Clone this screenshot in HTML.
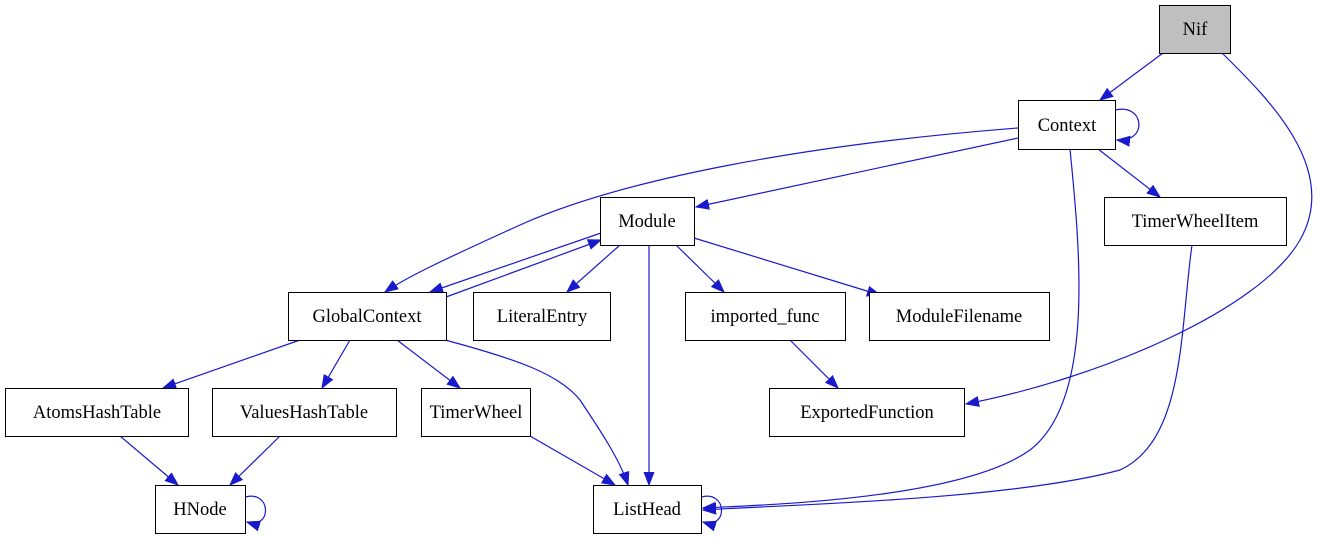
<!DOCTYPE html>
<html><head><meta charset="utf-8"><style>
html,body{margin:0;padding:0;background:#fff;}
svg{display:block;}
text{font-family:"Liberation Serif",serif;font-size:18.5px;fill:#000;}
</style></head><body>
<svg width="1317" height="539" viewBox="0 0 1317 539" xmlns="http://www.w3.org/2000/svg">
<defs>
<marker id="a" markerUnits="userSpaceOnUse" markerWidth="14" markerHeight="12" refX="13" refY="6" orient="auto">
<path d="M0,1 L13,6 L0,11 Z" fill="#1a1acd" stroke="#1a1acd"/>
</marker>
</defs>
<g fill="none" stroke="#1a1acd" stroke-width="1.2" marker-end="url(#a)">
<path d="M1163,53 L1100,100"/>
<path d="M1222,53 C1270,100 1340,170 1300,240 C1260,310 1100,378 966,404"/>
<path d="M1115,110 C1145,103 1148,143 1117,140"/>
<path d="M1018,128 C800,145 620,180 520,225 C450,257 410,275 385,292"/>
<path d="M1018,138 L696,207"/>
<path d="M1070,149 C1080,250 1095,400 1030,450 C960,500 760,505 703,508"/>
<path d="M1098,149 L1160,197"/>
<path d="M1192,245 C1180,330 1185,440 1120,470 C1010,500 780,505 703,510"/>
<path d="M601,233 L430,292"/>
<path d="M446,297 L601,240"/>
<path d="M620,245 L567,292"/>
<path d="M649,245 L649,485"/>
<path d="M676,245 L724,292"/>
<path d="M694,238 L880,295"/>
<path d="M790,340 L838,388"/>
<path d="M300,340 L163,388"/>
<path d="M350,340 L322,388"/>
<path d="M397,340 L460,388"/>
<path d="M445,340 C520,360 560,375 580,400 C600,430 620,460 628,485"/>
<path d="M120,436 L178,485"/>
<path d="M280,436 L230,485"/>
<path d="M245,497 C272,490 272,530 247,522"/>
<path d="M530,436 L615,485"/>
<path d="M701,497 C728,490 728,530 703,522"/>
</g>
<g stroke="#000" stroke-width="1">
<rect x="1159.5" y="5.5" width="71" height="48" fill="#bfbfbf"/>
<rect x="1018.5" y="100.5" width="97" height="49" fill="#fff"/>
<rect x="600.5" y="197.5" width="94" height="48" fill="#fff"/>
<rect x="1104.5" y="197.5" width="182" height="48" fill="#fff"/>
<rect x="288.5" y="292.5" width="158" height="48" fill="#fff"/>
<rect x="473.5" y="292.5" width="137" height="48" fill="#fff"/>
<rect x="685.5" y="292.5" width="160" height="48" fill="#fff"/>
<rect x="869.5" y="292.5" width="180" height="48" fill="#fff"/>
<rect x="5.5" y="388.5" width="183" height="48" fill="#fff"/>
<rect x="212.5" y="388.5" width="184" height="48" fill="#fff"/>
<rect x="421.5" y="388.5" width="109" height="48" fill="#fff"/>
<rect x="769.5" y="388.5" width="195" height="48" fill="#fff"/>
<rect x="155.5" y="485.5" width="90" height="48" fill="#fff"/>
<rect x="593.5" y="485.5" width="108" height="48" fill="#fff"/>
</g>
<g text-anchor="middle">
<text x="1195" y="35">Nif</text>
<text x="1067" y="131">Context</text>
<text x="647" y="227">Module</text>
<text x="1195" y="227">TimerWheelItem</text>
<text x="367" y="322">GlobalContext</text>
<text x="542" y="322">LiteralEntry</text>
<text x="765" y="322">imported_func</text>
<text x="959" y="322">ModuleFilename</text>
<text x="97" y="418">AtomsHashTable</text>
<text x="304" y="418">ValuesHashTable</text>
<text x="476" y="418">TimerWheel</text>
<text x="867" y="418">ExportedFunction</text>
<text x="200" y="515">HNode</text>
<text x="647" y="515">ListHead</text>
</g>
</svg>
</body></html>
